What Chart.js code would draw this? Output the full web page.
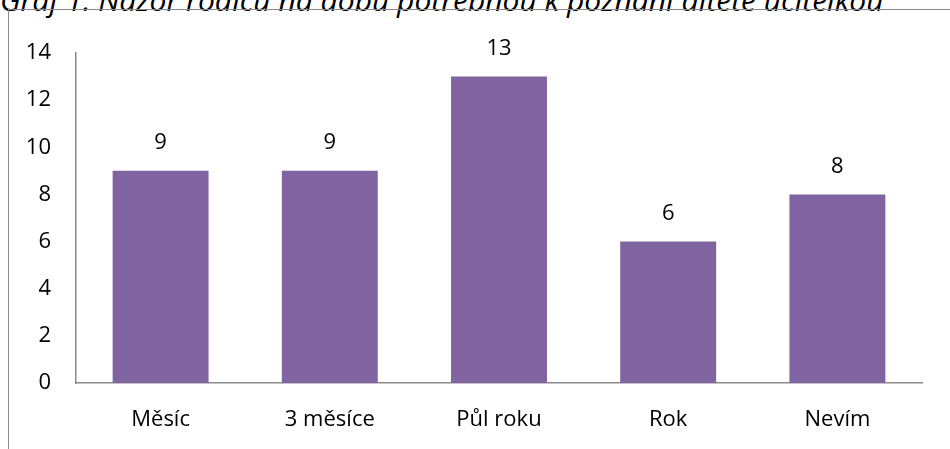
<!DOCTYPE html>
<html>
<head>
<meta charset="utf-8">
<script src="https://cdn.jsdelivr.net/npm/chart.js@4"></script>
<style>
  body { margin: 0; background: #fff; overflow: hidden; }
  #caption {
    position: absolute; left: 0; top: -21px; white-space: nowrap; line-height: 30px;
    font: italic 30px "Open Sans", sans-serif; color: #000;
  }
  #frame {
    position: absolute; left: 8px; top: 9px; width: 1000px; height: 500px;
    border-top: 1px solid #8a8a8a; border-left: 1px solid #8a8a8a;
  }
  canvas { position: absolute; left: 0; top: 0; }
</style>
</head>
<body>
<div id="caption">Graf 1: Názor rodičů na dobu potřebnou k poznání dítěte učitelkou</div>
<div id="frame"></div>
<canvas id="chart" width="950" height="449"></canvas>
<script>
const labels = ['Měsíc', '3 měsíce', 'Půl roku', 'Rok', 'Nevím'];
const values = [9, 9, 13, 6, 8];
const yTicks = [0, 2, 4, 6, 8, 10, 12, 14];

const FONT = '"Open Sans", sans-serif';

// value labels above each bar
const valueLabels = {
  id: 'valueLabels',
  afterDatasetsDraw(chart) {
    const ctx = chart.ctx;
    ctx.save();
    ctx.font = '22px ' + FONT;
    ctx.fillStyle = '#000';
    ctx.textAlign = 'center';
    ctx.textBaseline = 'middle';
    chart.getDatasetMeta(0).data.forEach((bar, i) => {
      ctx.fillText(values[i], bar.x, bar.y - 28);
    });
    ctx.restore();
  }
};

new Chart(document.getElementById('chart'), {
  type: 'bar',
  data: {
    labels,
    datasets: [{
      data: values,
      backgroundColor: '#8064A2',
      categoryPercentage: 1,
      barPercentage: 0.567
    }]
  },
  options: {
    responsive: false,
    animation: false,
    layout: { padding: { left: 0, top: 53, right: 28, bottom: 0 } },
    plugins: { legend: { display: false }, tooltip: { enabled: false } },
    scales: {
      x: {
        grid: { display: false },
        border: { color: '#8a8a8a', width: 1.5 },
        ticks: { color: '#000', font: { size: 22, family: FONT }, padding: 16, maxRotation: 0 },
        afterFit(scale) { scale.height = 66; }
      },
      y: {
        min: 0, max: 14,
        grid: { display: false },
        border: { color: '#8a8a8a', width: 1.5 },
        afterBuildTicks(scale) { scale.ticks = yTicks.map(v => ({ value: v })); },
        ticks: { color: '#000', font: { size: 22, family: FONT }, padding: 17 },
        afterFit(scale) { scale.width = 76; }
      }
    }
  },
  plugins: [valueLabels]
});
</script>
</body>
</html>
